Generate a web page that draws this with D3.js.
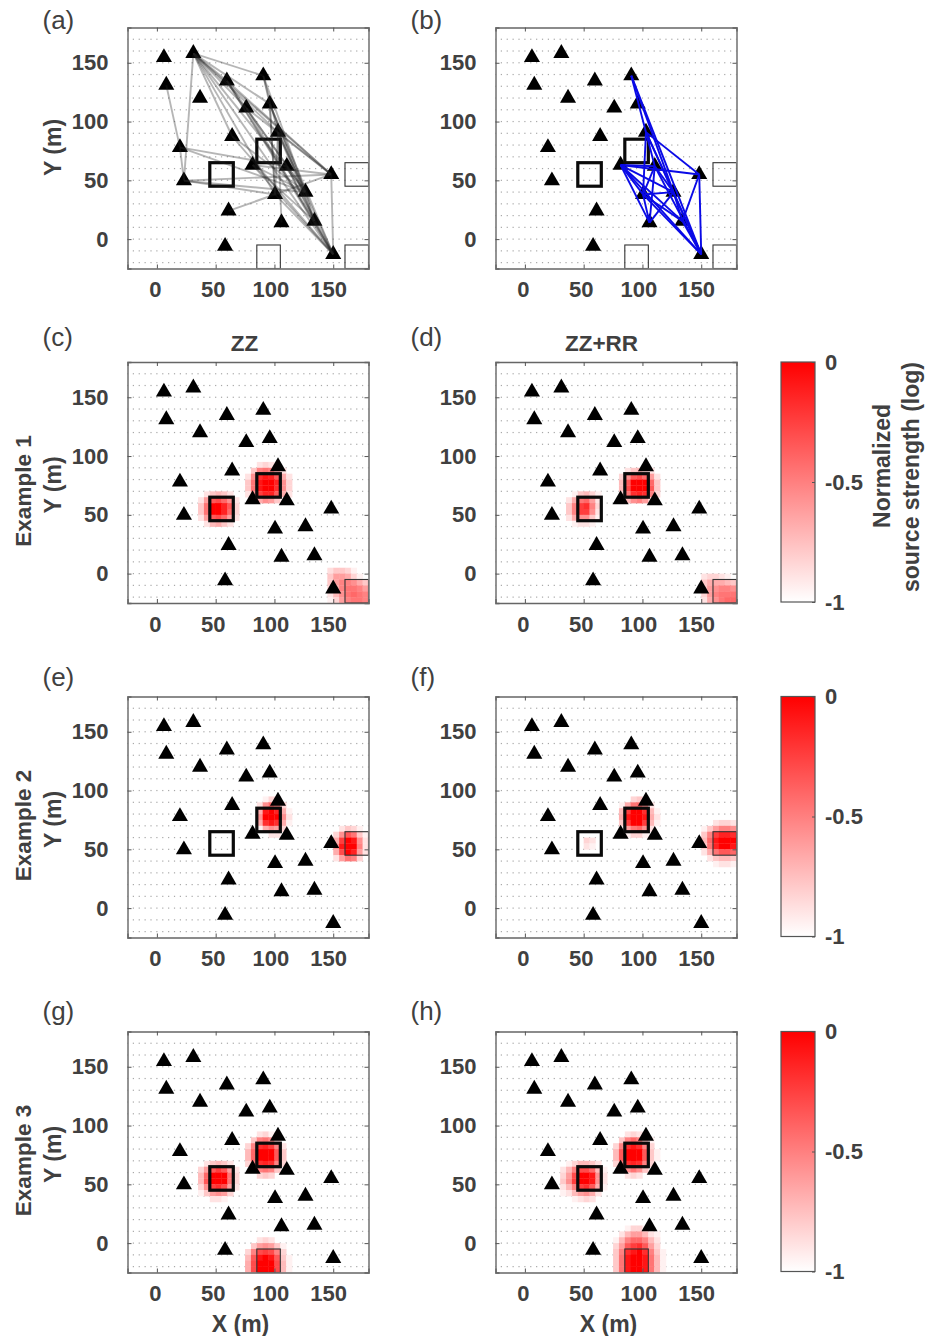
<!DOCTYPE html>
<html>
<head>
<meta charset="utf-8">
<title>Source strength maps</title>
<script src="https://cdn.jsdelivr.net/npm/d3@7"></script>
<style>
  body { margin: 0; background: #fff; }
  text { font-family: "Liberation Sans", Arial, sans-serif; fill: #404040; }
  .bold { font-weight: bold; }
</style>
</head>
<body>
<div id="chart"></div>
<script>
// station positions in metres
var stations = [
  [6, 154.5], [31, 158], [8, 131], [59.5, 134.7], [90.5, 139], [36.7, 120],
  [96, 115], [76, 111.6], [64, 87.5], [103, 91], [19.6, 78], [81.4, 63],
  [110.5, 62], [23, 49.7], [148.3, 55], [100.5, 38], [126.4, 40], [61, 24],
  [106, 14], [134, 15.3], [58, -6], [150, -13]
];

// station index pairs, panel (a)
var linksA = [
  [2,10],[10,13],[1,13],[1,4],[1,6],[1,3],[1,7],[1,9],[1,8],[1,14],[1,16],[1,15],[1,21],
  [4,6],[4,9],[4,16],[6,16],[6,21],[6,15],[6,19],[3,14],[3,21],[3,16],[3,19],[7,14],[7,21],[7,16],
  [9,14],[9,21],[9,16],[9,19],[9,15],[10,16],[10,12],[13,14],[13,16],[13,15],[17,14],[8,16],[8,21],
  [11,19],[11,21],[11,14],[11,16],[12,19],[12,21],[15,21],[14,21],[19,21],[18,9],[15,6],[16,19]
];

// station index pairs, panel (b)
var linksB = [
  [4,12],[4,16],[4,21],[9,14],[9,15],[9,16],[9,21],
  [11,12],[11,14],[11,15],[11,16],[11,18],[11,19],[11,21],
  [12,15],[12,16],[12,18],[12,21],
  [15,16],[15,18],[15,19],[15,21],[16,18],[16,19],[16,21],
  [14,19],[14,21],[19,21]
];

// lower left corners of the 20 m squares
var sourcesOn = [[45, 45], [85, 65]];
var sourcesOff = [
  [[160, 45], [85, -25], [160, -25]],
  [[160, -25]],
  [[160, 45]],
  [[85, -25]]
];

var xTickValues = [0, 50, 100, 150];
var yTickValues = [0, 50, 100, 150];
var colorTicks = [0, -0.5, -1];

// heat patches: [left x, top y, rows of 5 m cells], 1 = full red
var heatC = [
  [75, 95, [[0,0,.1,.15,.1,0,0,0],[0,.2,.45,.5,.45,.3,.1,0],[.1,.4,.75,.85,.8,.6,.3,.1],[.2,.5,.85,1,1,.8,.4,.15],[.2,.5,.85,1,1,.75,.4,.15],[.1,.4,.7,.8,.8,.6,.3,.1],[0,.1,.3,.4,.35,.2,.05,0]]],
  [35, 70, [[0,.1,.2,.25,.2,.1,0],[.1,.35,.6,.65,.55,.4,.1],[.2,.5,.9,1,.8,.6,.15],[.2,.5,.9,.95,.8,.55,.15],[.1,.35,.6,.65,.55,.35,.1],[0,.1,.25,.3,.2,.1,0]]],
  [145, 5, [[.12,.2,.2,.15,.05,0,0],[.2,.35,.35,.3,.15,.05,0],[.2,.35,.45,.45,.4,.3,.2],[.15,.3,.45,.5,.5,.45,.35],[.1,.25,.4,.5,.55,.5,.45],[.05,.15,.35,.45,.5,.5,.45]]]
];
var heatD = [
  [80, 90, [[0,.1,.2,.25,.15,.1,0],[.15,.4,.6,.65,.55,.35,.1],[.25,.6,.9,1,.9,.55,.2],[.25,.65,.95,1,.9,.6,.2],[.15,.5,.75,.8,.75,.45,.15],[.05,.25,.4,.45,.35,.15,0]]],
  [35, 70, [[0,.05,.2,.25,.15,.05,0],[.1,.3,.5,.55,.35,.1,0],[.2,.45,.7,.75,.45,.15,0],[.2,.45,.7,.7,.4,.1,0],[.1,.3,.4,.4,.2,.05,0],[0,.05,.1,.1,.05,0,0]]],
  [150, 0, [[.1,.15,.15,.1,.05,0],[.2,.3,.3,.3,.25,.2],[.2,.35,.4,.45,.45,.4],[.15,.35,.45,.5,.5,.5],[.1,.3,.4,.5,.55,.55]]]
];
var heatE = [
  [85, 95, [[0,.05,.15,.15,0,0],[.1,.4,.55,.45,.15,0],[.3,.85,.95,.8,.3,.05],[.4,.95,1,.9,.4,.1],[.3,.75,.85,.75,.3,.05],[.05,.3,.4,.35,.15,0],[0,0,.1,.1,0,0]]],
  [150, 70, [[0,.1,.2,.15,.05,0],[.15,.4,.6,.5,.2,.05],[.3,.7,.95,.85,.4,.1],[.4,.85,1,.95,.45,.1],[.3,.65,.9,.8,.35,.1],[.1,.35,.5,.45,.15,0]]]
];
var heatF = [
  [80, 95, [[0,0,.15,.2,.1,0,0],[.05,.3,.5,.55,.4,.1,0],[.25,.7,.95,.95,.75,.25,.05],[.3,.85,1,1,.85,.3,.1],[.2,.7,.9,.95,.7,.25,.05],[.05,.35,.5,.55,.4,.1,0],[0,.05,.15,.15,.05,0,0]]],
  [150, 75, [[0,0,.1,.15,.15,.1],[.05,.2,.35,.45,.45,.4],[.2,.45,.7,.8,.8,.75],[.25,.55,.85,.95,1,.95],[.2,.5,.8,.9,.95,.85],[.1,.3,.5,.6,.6,.55],[0,.1,.2,.25,.25,.2],[0,0,.05,.1,.1,.05]]],
  [45, 60, [[0,.15,.1],[0,.1,.05]]]
];
var heatG = [
  [75, 95, [[0,0,.1,.15,.05,0,0,0],[0,.2,.45,.5,.4,.15,0,0],[.15,.45,.75,.8,.7,.45,.1,0],[.25,.55,.9,1,.95,.6,.2,0],[.25,.55,.95,1,.9,.6,.2,0],[.15,.45,.75,.8,.75,.45,.15,0],[0,.2,.45,.5,.45,.2,0,0],[0,0,.15,.2,.15,0,0,0]]],
  [35, 70, [[0,.1,.2,.25,.2,.1,0],[.15,.35,.6,.7,.6,.35,.1],[.25,.55,.95,1,.9,.5,.15],[.25,.6,1,1,.9,.5,.15],[.15,.4,.7,.75,.65,.35,.1],[.05,.2,.35,.4,.35,.15,0],[0,0,.1,.1,.05,0,0]]],
  [75, 5, [[0,0,.1,.15,.1,0,0,0],[0,.2,.35,.4,.35,.2,.05,0],[.15,.45,.65,.7,.65,.45,.15,0],[.25,.6,.85,.9,.85,.6,.2,.05],[.3,.65,.95,1,.95,.65,.25,.05],[.3,.65,.95,1,.95,.65,.25,.05]]]
];
var heatH = [
  [75, 95, [[0,0,.1,.15,.1,0,0,0],[0,.2,.45,.55,.45,.2,.05,0],[.15,.45,.75,.85,.75,.45,.15,0],[.25,.6,.95,1,.95,.6,.2,.05],[.25,.6,.95,1,.95,.6,.2,.05],[.15,.45,.75,.8,.75,.45,.15,0],[0,.2,.4,.5,.4,.2,0,0],[0,0,.1,.15,.1,0,0,0]]],
  [30, 70, [[0,.05,.15,.25,.25,.2,.1,0],[.1,.25,.45,.65,.65,.55,.25,.05],[.15,.35,.65,.95,1,.85,.4,.1],[.2,.4,.7,1,1,.85,.4,.1],[.1,.25,.45,.7,.75,.6,.3,.05],[.05,.1,.25,.35,.4,.3,.1,0],[0,0,.05,.1,.15,.1,0,0]]],
  [75, 15, [[0,0,.05,.15,.15,.05,0,0,0],[0,.1,.25,.35,.35,.25,.1,.05,0],[.05,.25,.45,.55,.55,.45,.25,.1,0],[.15,.35,.6,.7,.75,.6,.35,.15,0],[.2,.45,.75,.85,.9,.75,.45,.2,.05],[.2,.5,.85,1,1,.85,.5,.25,.05],[.2,.5,.85,1,1,.85,.5,.25,.05],[.2,.5,.85,1,1,.85,.5,.25,.05]]]
];

var panelLabels = ["(a)", "(b)", "(c)", "(d)", "(e)", "(f)", "(g)", "(h)"];
var panelHeat = [[], [], heatC, heatD, heatE, heatF, heatG, heatH];
var rowNames = ["", "Example 1", "Example 2", "Example 3"];

var width = 925, height = 1336;
var colLeft = [127.5, 495.5];
var rowTop = [27.5, 362, 696.5, 1031.5];
var letterY = [1, -16, -11, -12]; // panel letter baseline per row
var size = 241;
var labelFont = "'Liberation Sans', Arial, sans-serif";

var x = d3.scaleLinear().domain([-25, 180]).range([0, size]);
var y = d3.scaleLinear().domain([-25, 180]).range([size, 0]);
var heatColor = d3.scaleLinear().domain([0, 0.92]).range(["#ffffff", "#ff0000"]).clamp(true);
var triangle = d3.symbol().type(d3.symbolTriangle).size(112);

var svg = d3.select("#chart").append("svg")
  .attr("width", width)
  .attr("height", height)
  .style("display", "block");

var defs = svg.append("defs");
defs.append("clipPath").attr("id", "plot_clip")
  .append("rect").attr("width", size).attr("height", size);
defs.append("filter").attr("id", "soft")
  .attr("x", "-10%").attr("y", "-10%").attr("width", "120%").attr("height", "120%")
  .append("feGaussianBlur").attr("stdDeviation", 0.5);

var gridX = d3.range(-25, 181, 5), gridY = d3.range(-20, 180, 10);

panelLabels.forEach(function(label, i) {
  var col = i % 2, row = Math.floor(i / 2);
  var g = svg.append("g").attr("transform", "translate(" + colLeft[col] + "," + rowTop[row] + ")");
  var plot = g.append("g").attr("clip-path", "url(#plot_clip)");

  // background grid of points, the heat cells cover it
  var dots = plot.append("g").attr("fill", "#a8a8a8");
  gridY.forEach(function(gy) {
    dots.selectAll(null).data(gridX).enter().append("rect")
      .attr("x", function(d) { return x(d) - 0.6; })
      .attr("y", y(gy) - 0.6)
      .attr("width", 1.2).attr("height", 1.2);
  });

  // heat cells
  var cells = [];
  panelHeat[i].forEach(function(patch) {
    patch[2].forEach(function(cols, r) {
      cols.forEach(function(v, c) {
        if (v > 0) cells.push({ x: patch[0] + c * 5, y: patch[1] - r * 5, v: v });
      });
    });
  });
  plot.append("g").attr("filter", "url(#soft)")
    .selectAll("rect").data(cells).enter().append("rect")
    .attr("x", function(d) { return x(d.x); })
    .attr("y", function(d) { return y(d.y); })
    .attr("width", x(5) - x(0) + 0.3)
    .attr("height", y(0) - y(5) + 0.3)
    .attr("fill", function(d) { return heatColor(d.v); });

  // squares
  plot.selectAll(".off").data(sourcesOff[row]).enter().append("rect")
    .attr("class", "off")
    .attr("x", function(d) { return x(d[0]); })
    .attr("y", function(d) { return y(d[1] + 20); })
    .attr("width", x(20) - x(0))
    .attr("height", y(0) - y(20))
    .attr("fill", "none").attr("stroke", "#333").attr("stroke-width", 1.1);

  plot.selectAll(".sta").data(stations).enter().append("path")
    .attr("class", "sta")
    .attr("d", triangle)
    .attr("transform", function(d) { return "translate(" + x(d[0]) + "," + y(d[1]) + ")"; })
    .attr("fill", "#000");

  plot.selectAll(".on").data(sourcesOn).enter().append("rect")
    .attr("class", "on")
    .attr("x", function(d) { return x(d[0]); })
    .attr("y", function(d) { return y(d[1] + 20); })
    .attr("width", x(20) - x(0))
    .attr("height", y(0) - y(20))
    .attr("fill", "none").attr("stroke", "#0a0a0a").attr("stroke-width", 3.2);

  // station pairs only on the top row
  if (i < 2) {
    plot.selectAll(".link").data(i == 0 ? linksA : linksB).enter().append("line")
      .attr("class", "link")
      .attr("x1", function(d) { return x(stations[d[0]][0]); })
      .attr("y1", function(d) { return y(stations[d[0]][1]); })
      .attr("x2", function(d) { return x(stations[d[1]][0]); })
      .attr("y2", function(d) { return y(stations[d[1]][1]); })
      .attr("stroke", i == 0 ? "#222" : "#0a0ae6")
      .attr("stroke-opacity", i == 0 ? 0.33 : 1)
      .attr("stroke-width", 1.9);
  }

  // axes, ticks point inwards on all four sides
  var xAxis = g.append("g").attr("transform", "translate(0," + size + ")")
    .call(d3.axisBottom(x).tickValues(xTickValues).tickSize(-4).tickPadding(13));
  var yAxis = g.append("g")
    .call(d3.axisLeft(y).tickValues(yTickValues).tickSize(-4).tickPadding(19));
  g.append("g").attr("transform", "translate(" + size + ",0)")
    .call(d3.axisRight(y).tickValues(yTickValues).tickSize(-4).tickFormat(""));
  g.append("g")
    .call(d3.axisTop(x).tickValues(xTickValues).tickSize(-4).tickFormat(""));
  g.selectAll(".domain").attr("stroke", "#666").attr("stroke-width", 1.4);
  g.selectAll(".tick line").attr("stroke", "#555");
  xAxis.selectAll("text").attr("class", "bold")
    .attr("dx", function(d) { return -2 - d * 0.02; })
    .style("font-size", "22px").style("font-family", labelFont).style("fill", "#404040");
  yAxis.selectAll("text").attr("class", "bold")
    .style("font-size", "22px").style("font-family", labelFont).style("fill", "#404040");

  // panel letter
  g.append("text")
    .attr("x", -85)
    .attr("y", letterY[row])
    .style("font-size", "26px")
    .text(label);

  if (col == 0) {
    g.append("text").attr("class", "bold")
      .attr("transform", "translate(-67," + (row == 0 ? 120 : 123) + ") rotate(-90)")
      .attr("text-anchor", "middle")
      .style("font-size", "23px")
      .text("Y (m)");
    if (row > 0) {
      g.append("text").attr("class", "bold")
        .attr("transform", "translate(-97,129) rotate(-90)")
        .attr("text-anchor", "middle")
        .style("font-size", "22.5px")
        .text(rowNames[row]);
    }
  }
  if (row == 3) {
    g.append("text").attr("class", "bold")
      .attr("x", 113)
      .attr("y", size + 59)
      .attr("text-anchor", "middle")
      .style("font-size", "23px")
      .text("X (m)");
  }
  if (row == 1) {
    g.append("text").attr("class", "bold")
      .attr("x", col == 0 ? 117 : 106)
      .attr("y", -11)
      .attr("text-anchor", "middle")
      .style("font-size", "22.5px")
      .text(col == 0 ? "ZZ" : "ZZ+RR");
  }
});

// colour bars for the three example rows
var grad = defs.append("linearGradient").attr("id", "bar_grad")
  .attr("x1", 0).attr("y1", 0).attr("x2", 0).attr("y2", 1);
grad.append("stop").attr("offset", "0%").attr("stop-color", "#ff0000");
grad.append("stop").attr("offset", "100%").attr("stop-color", "#ffffff");

var barScale = d3.scaleLinear().domain([0, -1]).range([0, 240]);
[1, 2, 3].forEach(function(row) {
  var bar = svg.append("g").attr("transform", "translate(781," + rowTop[row] + ")");
  bar.append("rect")
    .attr("width", 34).attr("height", 240)
    .attr("fill", "url(#bar_grad)")
    .attr("stroke", "#555").attr("stroke-width", 1.2);
  var axis = bar.append("g").attr("transform", "translate(34,0)")
    .call(d3.axisRight(barScale).tickValues(colorTicks).tickSize(-3).tickPadding(10)
      .tickFormat(function(d) { return d; }));
  axis.select(".domain").remove();
  axis.selectAll(".tick line").attr("stroke", "#555");
  axis.selectAll("text").attr("class", "bold")
    .style("font-size", "22px").style("font-family", labelFont).style("fill", "#404040");
});

svg.append("text").attr("class", "bold")
  .attr("transform", "translate(890,466) rotate(-90)")
  .attr("text-anchor", "middle")
  .style("font-size", "23px")
  .text("Normalized");
svg.append("text").attr("class", "bold")
  .attr("transform", "translate(919,477) rotate(-90)")
  .attr("text-anchor", "middle")
  .style("font-size", "23px")
  .text("source strength (log)");
</script>
</body>
</html>
